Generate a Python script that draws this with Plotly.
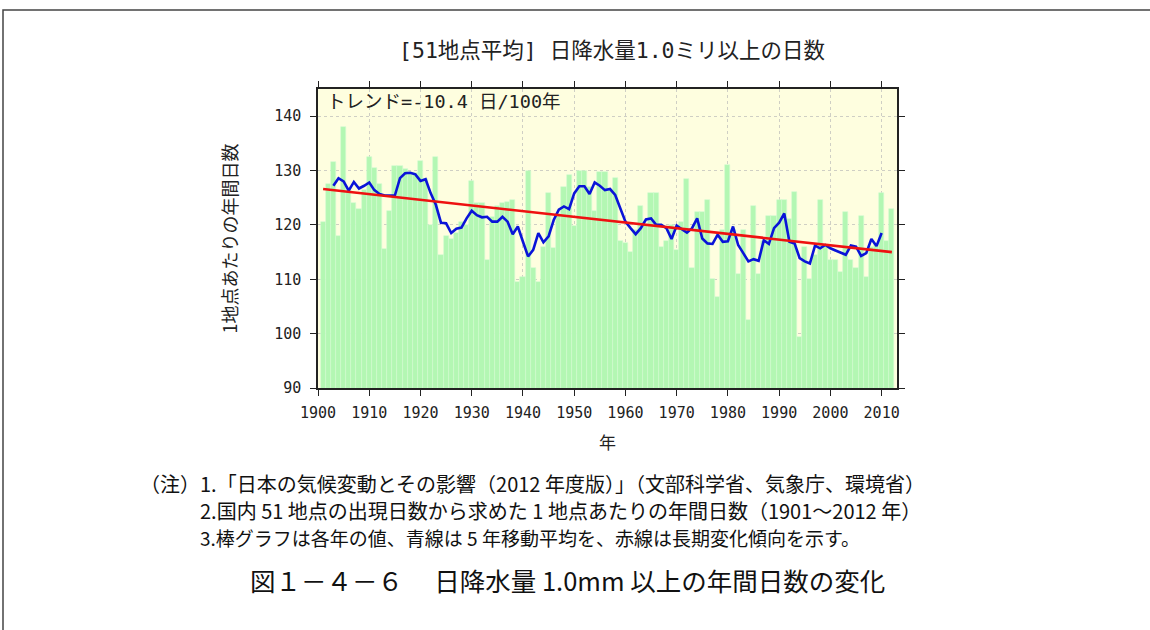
import plotly.graph_objects as go

years = list(range(1901, 2013))
days = [
    120.6, 127.5, 131.5, 118.0, 138.0, 126.5, 124.0, 123.0, 126.5, 132.5,  # 1901-1910
    130.5, 127.5, 115.5, 122.5, 130.8, 130.8, 130.2, 129.5, 129.5, 131.8,  # 1911-1920
    128.5, 120.0, 132.5, 114.5, 118.0, 117.5, 118.5, 120.5, 120.0, 128.0,  # 1921-1930
    124.0, 124.0, 113.5, 121.5, 123.5, 124.0, 124.2, 124.5, 109.5, 110.5,  # 1931-1940
    130.0, 112.0, 109.5, 116.0, 125.8, 115.7, 122.0, 127.0, 129.2, 119.8,  # 1941-1950
    130.0, 130.0, 127.0, 122.5, 129.8, 129.8, 126.4, 128.7, 117.0, 116.6,  # 1951-1960
    115.0, 119.0, 123.5, 120.0, 125.8, 125.8, 116.0, 117.0, 120.0, 115.4,  # 1961-1970
    120.5, 128.4, 112.0, 122.4, 122.4, 124.6, 110.1, 106.8, 119.0, 131.0,  # 1971-1980
    119.0, 111.0, 119.0, 102.6, 123.4, 111.0, 117.0, 121.6, 121.6, 124.6,  # 1981-1990
    124.6, 121.0, 126.1, 99.4, 116.0, 110.0, 114.5, 124.6, 116.0, 113.5,   # 1991-2000
    113.5, 111.4, 122.4, 113.5, 112.0, 121.6, 110.4, 116.0, 116.5, 125.8,  # 2001-2010
    117.0, 123.0,                                                          # 2011-2012
]

ma_years = list(range(1903, 2011))
ma5 = [
    127.2, 128.6, 128.0, 126.3, 127.9, 126.7, 127.2, 127.8,  # 1903-1910
    126.4, 125.7, 125.4, 125.4, 125.4, 128.6, 129.5, 129.6, 129.3, 128.1,  # 1911-1920
    128.4, 125.8, 123.7, 120.4, 120.3, 118.5, 119.3, 119.5, 121.2, 122.6,  # 1921-1930
    121.8, 121.4, 121.5, 120.6, 120.6, 121.5, 120.6, 118.3, 119.7, 116.9,  # 1931-1940
    114.2, 115.4, 118.5, 116.8, 117.9, 120.9, 122.8, 123.4, 122.9, 125.8,  # 1941-1950
    127.1, 127.1, 125.7, 127.8, 127.2, 126.4, 126.6, 125.5, 123.1, 120.6,  # 1951-1960
    119.4, 118.3, 119.4, 121.0, 121.2, 120.0, 120.0, 119.4, 117.4, 119.9,  # 1961-1970
    119.2, 118.6, 119.4, 121.2, 117.5, 116.6, 116.5, 118.2, 116.9, 117.0,  # 1971-1980
    119.7, 116.3, 114.8, 113.3, 113.7, 113.4, 117.2, 116.5, 119.4, 120.4,  # 1981-1990
    122.1, 116.9, 116.6, 113.9, 113.3, 112.9, 116.2, 115.7, 116.3, 115.7,  # 1991-2000
    115.3, 114.9, 114.5, 116.2, 116.0, 114.3, 114.8, 117.4, 116.1, 118.5,  # 2001-2010
]

trend_years = [1901, 2012]
trend_days = [126.6, 115.0]

x_ticks = list(range(1900, 2011, 10))
y_ticks = [90, 100, 110, 120, 130, 140]

title_text = "[51地点平均] 日降水量1.0ミリ以上の日数"
trend_text = "トレンド=-10.4 日/100年"
notes = [
    "（注）1.「日本の気候変動とその影響（2012 年度版）」（文部科学省、気象庁、環境省）",
    "2.国内 51 地点の出現日数から求めた 1 地点あたりの年間日数（1901～2012 年）",
    "3.棒グラフは各年の値、青線は 5 年移動平均を、赤線は長期変化傾向を示す。",
]
caption = "図１－４－６　 日降水量 1.0mm 以上の年間日数の変化"

JP = "Noto Sans CJK JP"
MONO = "DejaVu Sans Mono, Noto Sans CJK JP"

fig = go.Figure()
fig.add_trace(go.Bar(x=years, y=days, width=1.0,
                     marker=dict(color="#b3f7b3", line=dict(color="#d2fbd2", width=0.6)),
                     hoverinfo="x+y"))
fig.add_trace(go.Scatter(x=ma_years, y=ma5, mode="lines",
                         line=dict(color="#0a14d8", width=2.6)))
fig.add_trace(go.Scatter(x=trend_years, y=trend_days, mode="lines",
                         line=dict(color="#ee1111", width=2.6)))

# plot area spans x 318..897, y 89..388 in pixels
L, R, T, B = 318, 897, 89, 388
def px(x):
    return (x - L) / (R - L)
def py(y):
    return (B - y) / (B - T)

ann = [
    dict(text=title_text, x=px(612), y=py(50), font=dict(family=MONO, size=21.5, color="#222")),
    dict(text=trend_text, x=px(325), y=py(102), xanchor="left",
         font=dict(family=MONO, size=18.5, color="#222")),
    dict(text="年", x=px(607), y=py(441), font=dict(family=JP, size=17, color="#222")),
    dict(text=notes[0], x=px(138), y=py(483), xanchor="left", font=dict(family=JP, size=20, color="#111")),
    dict(text=notes[1], x=px(198), y=py(510), xanchor="left", font=dict(family=JP, size=20, color="#111")),
    dict(text=notes[2], x=px(198), y=py(537), xanchor="left", font=dict(family=JP, size=19, color="#111")),
    dict(text=caption, x=px(248), y=py(579), xanchor="left", font=dict(family=JP, size=25.5, color="#111")),
]
for a in ann:
    a.update(xref="paper", yref="paper", showarrow=False, yanchor="middle")
    a.setdefault("xanchor", "center")

fig.update_layout(
    width=1150, height=630,
    margin=dict(l=L, r=1150 - R, t=T, b=630 - B),
    paper_bgcolor="white",
    plot_bgcolor="#fefedf",
    showlegend=False,
    bargap=0,
    annotations=ann,
    shapes=[dict(type="rect", xref="paper", yref="paper",
                 x0=px(3), x1=px(1170), y0=py(650), y1=py(10),
                 line=dict(color="#444", width=1.5), layer="below")],
    xaxis=dict(range=[1900, 2013], tickvals=x_ticks, ticks="outside", ticklen=6,
               tickcolor="#222", showline=True, linecolor="#222", linewidth=1.5,
               mirror="ticks", showgrid=True, gridcolor="#cfcfc4", griddash="dot",
               gridwidth=1, zeroline=False, ticklabelstandoff=4,
               tickfont=dict(family=MONO, size=15, color="#222")),
    yaxis=dict(range=[90, 145], tickvals=y_ticks, ticks="outside", ticklen=6,
               tickcolor="#222", showline=True, linecolor="#222", linewidth=1.5,
               mirror="ticks", showgrid=True, gridcolor="#cfcfc4", griddash="dot",
               gridwidth=1, zeroline=False, ticklabelstandoff=6,
               title=dict(text="1地点あたりの年間日数", font=dict(family=JP, size=18, color="#222"),
                          standoff=32),
               tickfont=dict(family=MONO, size=15, color="#222")),
)

fig.write_html("out.html", config={"displayModeBar": False},
               post_script="document.body.style.margin='0';")
